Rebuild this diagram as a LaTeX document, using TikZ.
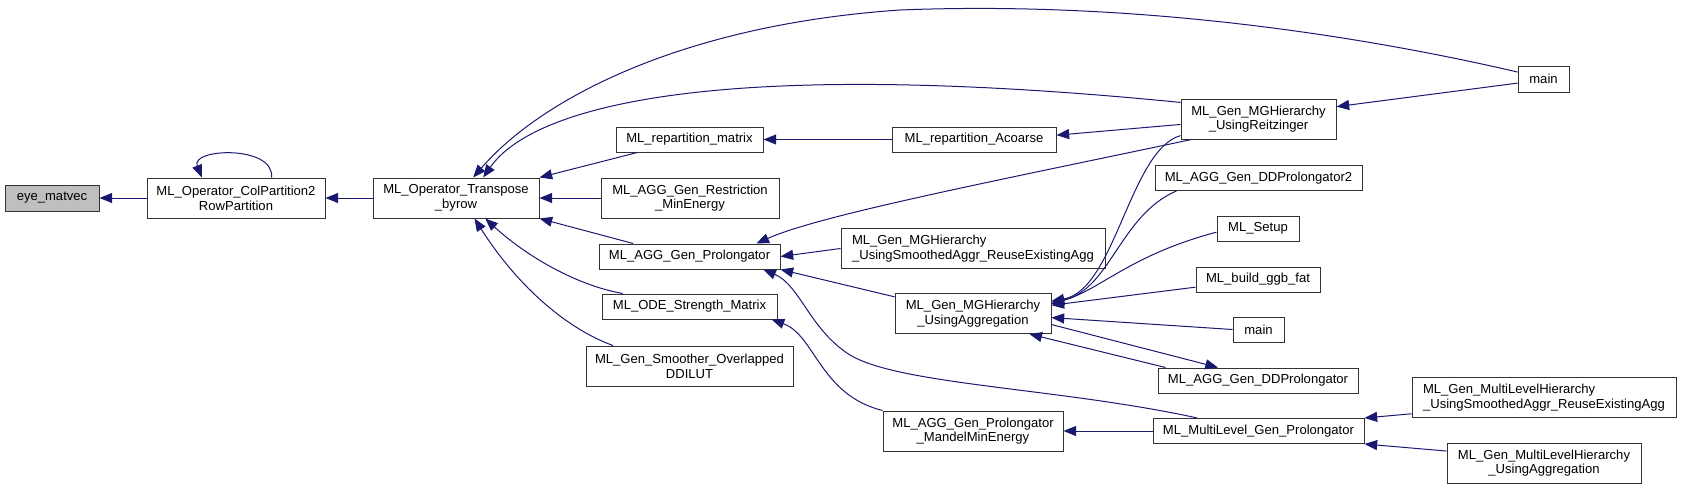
\documentclass[tikz,border=0pt]{standalone}
\usepackage{fontspec}
\setmainfont{Liberation Sans}
\usetikzlibrary{arrows.meta}
\definecolor{callblue}{HTML}{191970}
\definecolor{leafgray}{HTML}{BFBFBF}

\begin{document}
\begin{tikzpicture}[x=0.75pt, y=-0.75pt,
  font=\fontsize{9.8}{11}\selectfont,
  fnbox/.style={draw=black!80, line width=0.75pt, fill=white, inner sep=0pt, align=center, minimum height=18.75pt},
  twoline/.style={minimum height=30pt},
  callline/.style={{Triangle[length=9.5pt, width=7.5pt]}-, draw=callblue, line width=0.75pt}]
  \useasboundingbox (0,0) rectangle (1681,489);
  \node[fnbox, fill=leafgray, minimum width=70.5pt, minimum height=19.5pt] (eye) at (52,198) {eye\_matvec};
  \node[fnbox, twoline, minimum width=133.5pt] (colpart) at (236,198) {ML\_Operator\_ColPartition2\\RowPartition};
  \node[fnbox, twoline, minimum width=124.5pt] (transp) at (456,198) {ML\_Operator\_Transpose\\\_byrow};
  \node[fnbox, minimum width=110.25pt] (repmat) at (689.5,139.5) {ML\_repartition\_matrix};
  \node[fnbox, twoline, minimum width=133.5pt] (restr) at (690,198) {ML\_AGG\_Gen\_Restriction\\\_MinEnergy};
  \node[fnbox, minimum width=135.75pt] (prolong) at (689.5,256.5) {ML\_AGG\_Gen\_Prolongator};
  \node[fnbox, minimum width=131.25pt] (ode) at (689.5,306.5) {ML\_ODE\_Strength\_Matrix};
  \node[fnbox, twoline, minimum width=155.25pt] (smoother) at (689.5,366) {ML\_Gen\_Smoother\_Overlapped\\DDILUT};
  \node[fnbox, minimum width=123pt] (acoarse) at (974,139.5) {ML\_repartition\_Acoarse};
  \node[fnbox, twoline, align=left, minimum width=198pt] (mghreuse) at (973,248.5) {ML\_Gen\_MGHierarchy\\\_UsingSmoothedAggr\_ReuseExistingAgg};
  \node[fnbox, twoline, minimum width=117pt] (mghagg) at (973,313.5) {ML\_Gen\_MGHierarchy\\\_UsingAggregation};
  \node[fnbox, twoline, minimum width=135pt] (mandel) at (973,431) {ML\_AGG\_Gen\_Prolongator\\\_MandelMinEnergy};
  \node[fnbox, minimum width=38.25pt, minimum height=19.5pt] (maintop) at (1543.5,79) {main};
  \node[fnbox, twoline, minimum width=116.25pt] (reitz) at (1258.5,119) {ML\_Gen\_MGHierarchy\\\_UsingReitzinger};
  \node[fnbox, minimum width=155.25pt] (ddprol2) at (1258.5,178) {ML\_AGG\_Gen\_DDProlongator2};
  \node[fnbox, minimum width=61.5pt] (setup) at (1258,228.5) {ML\_Setup};
  \node[fnbox, minimum width=93pt] (ggb) at (1258,279.5) {ML\_build\_ggb\_fat};
  \node[fnbox, minimum width=38.25pt] (mainbot) at (1258.5,329.5) {main};
  \node[fnbox, minimum width=150pt] (ddprol) at (1258,380.5) {ML\_AGG\_Gen\_DDProlongator};
  \node[fnbox, minimum width=158.25pt] (mlprolong) at (1258.5,431) {ML\_MultiLevel\_Gen\_Prolongator};
  \node[fnbox, twoline, align=left, minimum width=198pt] (mlhreuse) at (1544,397.5) {ML\_Gen\_MultiLevelHierarchy\\\_UsingSmoothedAggr\_ReuseExistingAgg};
  \node[fnbox, twoline, minimum width=145.5pt] (mlhagg) at (1544,463) {ML\_Gen\_MultiLevelHierarchy\\\_UsingAggregation};
  \draw[callline] (eye.east) -- (colpart.west);
  \draw[callline] (colpart.149) .. controls (190,148) and (275,145) .. (colpart.30);
  \draw[callline] (colpart.east) -- (transp.west);
  \draw[callline] (transp.50) .. controls (540,100) and (680,25) .. (900,10) .. controls (1150,0) and (1380,40) .. (maintop.165);
  \draw[callline] (transp.37) .. controls (530,110) and (700,55) .. (reitz.168);
  \draw[callline] (transp.north east) -- (repmat.194);
  \draw[callline] (transp.east) -- (restr.west);
  \draw[callline] (transp.south east) -- (prolong.167);
  \draw[callline] (transp.-35) .. controls (525,255) and (575,285) .. (ode.169);
  \draw[callline] (transp.-48) .. controls (520,290) and (570,330) .. (smoother.165);
  \draw[callline] (repmat.east) -- (acoarse.west);
  \draw[callline] (acoarse.3) -- (reitz.184);
  \draw[callline] (reitz.9) -- (maintop.189);
  \draw[callline] (prolong.11) .. controls (820,215) and (1000,180) .. (reitz.197);
  \draw[callline] (prolong.east) -- (mghreuse.west);
  \draw[callline] (prolong.south east) -- (mghagg.168);
  \draw[callline] (prolong.-10) .. controls (800,285) and (810,330) .. (850,355) .. controls (900,385) and (1060,388) .. (mlprolong.168);
  \draw[callline] (ode.-9) .. controls (815,335) and (820,395) .. (mandel.north west);
  \draw[callline] (mghagg.9) .. controls (1115,290) and (1130,150) .. (reitz.192);
  \draw[callline] (mghagg.8) .. controls (1110,290) and (1120,215) .. (ddprol2.189);
  \draw[callline] (mghagg.7) .. controls (1100,290) and (1130,255) .. (setup.185);
  \draw[callline] (mghagg.6) -- (ggb.187);
  \draw[callline] (mghagg.-3) -- (mainbot.west);
  \draw[callline] (mghagg.-20) -- (ddprol.172);
  \draw[callline] (ddprol.162) -- (mghagg.-8);
  \draw[callline] (mandel.east) -- (mlprolong.west);
  \draw[callline] (mlprolong.north east) -- (mlhreuse.187);
  \draw[callline] (mlprolong.south east) -- (mlhagg.173);
\end{tikzpicture}
\end{document}
